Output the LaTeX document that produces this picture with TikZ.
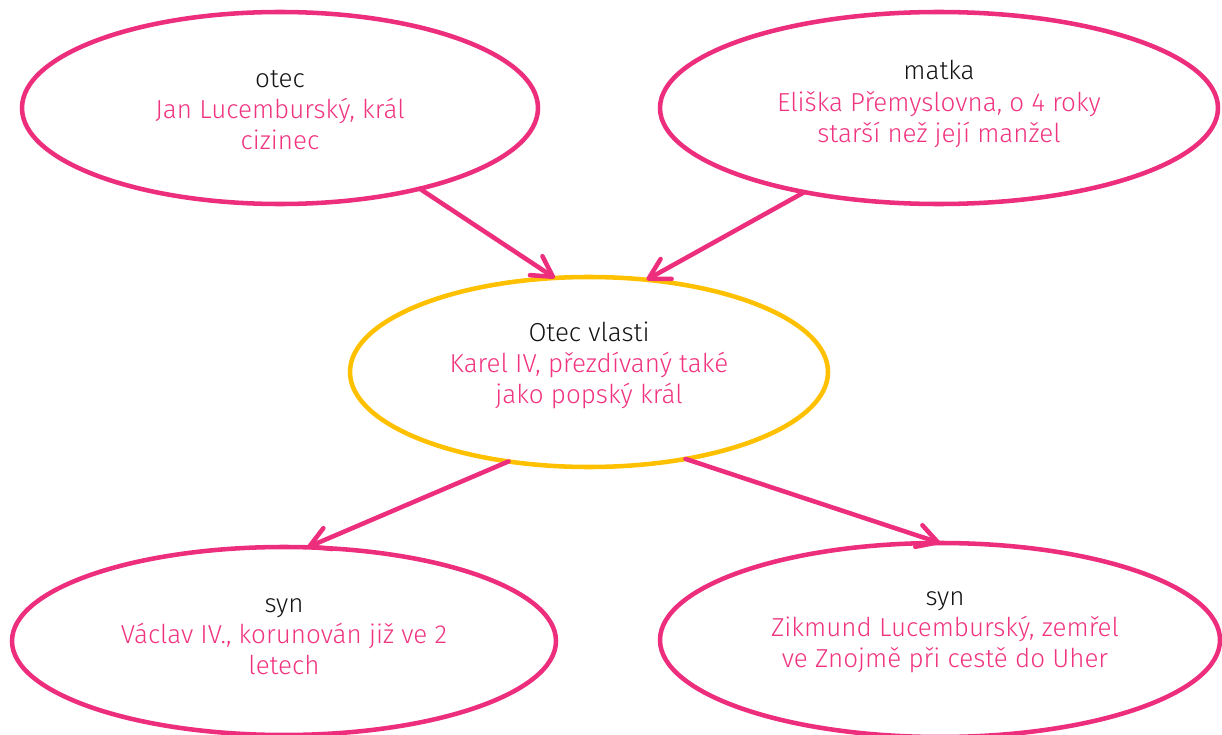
\documentclass[tikz,border=0pt]{standalone}
\usepackage{fontspec}
\setmainfont{Fira Sans Light}
\usetikzlibrary{shapes.geometric,arrows.meta}
\definecolor{pinkline}{RGB}{236,46,125}
\definecolor{pinktext}{RGB}{240,52,128}
\definecolor{yellowline}{RGB}{255,192,0}
\definecolor{darktext}{RGB}{20,20,20}
\begin{document}
\begin{tikzpicture}[x=0.75pt,y=-0.75pt,
  oval/.style={ellipse,draw=pinkline,line width=3.4pt,inner sep=0pt,outer sep=0pt},
  centraloval/.style={oval,draw=yellowline},
  txt/.style={align=center,font=\fontsize{19.5}{23.3}\selectfont,text=darktext,inner sep=0pt},
  conn/.style={draw=pinkline,line width=3.4pt,line cap=round,line join=round,
    -{Straight Barb[length=15pt,width=17pt,line cap=round,line join=round]}},
]
\useasboundingbox (0,0) rectangle (1222,735);
\node[oval,minimum width=387pt,minimum height=144pt] (otec) at (280,108) {};
\node[oval,minimum width=418.5pt,minimum height=144pt] (matka) at (939,108) {};
\node[centraloval,minimum width=358.5pt,minimum height=142.5pt] (karel) at (589,372) {};
\node[oval,minimum width=408pt,minimum height=141pt] (vaclav) at (284,641) {};
\node[oval,minimum width=420pt,minimum height=145.5pt] (zikmund) at (940,640) {};

\node[txt] (totec) at (280,110) {otec\\\textcolor{pinktext}{Jan Lucemburský, král}\\\textcolor{pinktext}{cizinec}};
\node[txt] (tmatka) at (939,104) {matka\\\textcolor{pinktext}{Eliška Přemyslovna, o 4 roky}\\\textcolor{pinktext}{starší než její manžel}};
\node[txt] (tkarel) at (589,365) {Otec vlasti\\\textcolor{pinktext}{Karel IV, přezdívaný také}\\\textcolor{pinktext}{jako popský král}};
\node[txt] (tvaclav) at (284,637) {syn\\\textcolor{pinktext}{Václav IV., korunován již ve 2}\\\textcolor{pinktext}{letech}};
\node[txt] (tzikmund) at (945,632) {syn\\\textcolor{pinktext}{Zikmund Lucemburský, zemřel}\\\textcolor{pinktext}{ve Znojmě při cestě do Uher}};

\draw[conn] (otec.-30) -- (karel.110);
\draw[conn] (matka.-148.5) -- (karel.58);
\draw[conn] (karel.-132) -- (vaclav.76);
\draw[conn] (karel.-42.5) -- (zikmund.90);
\end{tikzpicture}
\end{document}
